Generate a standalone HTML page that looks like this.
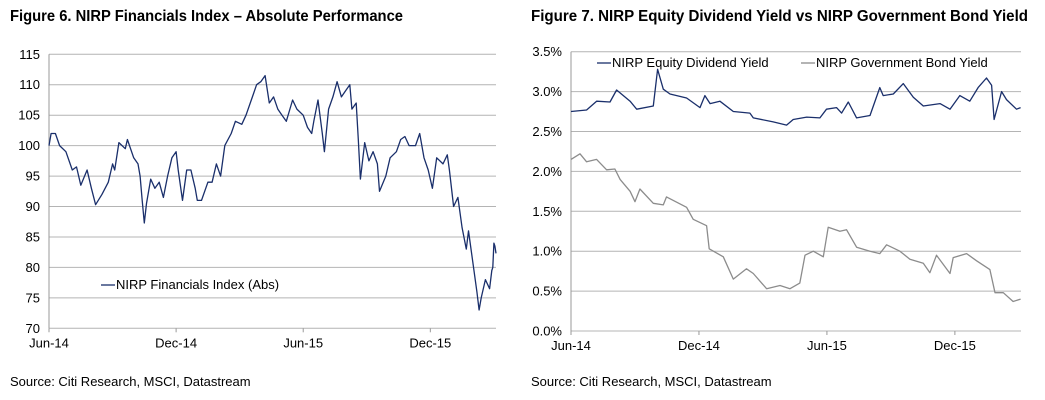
<!DOCTYPE html>
<html><head><meta charset="utf-8"><style>
body{margin:0;background:#fff}
svg{display:block;font-family:"Liberation Sans",Arial,sans-serif}
.t{font-family:"Liberation Sans Narrow","Liberation Sans",sans-serif;font-weight:bold;font-size:16px;fill:#000}
.tk{font-size:13px;fill:#000}
.src{font-family:"Liberation Sans Narrow","Liberation Sans",sans-serif;font-size:13px;fill:#000}
</style></head><body>
<svg id="s" width="1045" height="400">
<text class="t" x="10" y="21" textLength="393" lengthAdjust="spacingAndGlyphs">Figure 6. NIRP Financials Index – Absolute Performance</text>
<text class="t" x="531" y="21" textLength="497" lengthAdjust="spacingAndGlyphs">Figure 7. NIRP Equity Dividend Yield vs NIRP Government Bond Yield</text>
<text class="src" x="10" y="386">Source: Citi Research, MSCI, Datastream</text>
<text class="src" x="531" y="386">Source: Citi Research, MSCI, Datastream</text>
<g id="L"></g>
<g id="R"></g>
</svg>
<script>
const xTickLabels=["Jun-14","Dec-14","Jun-15","Dec-15"];
const xTickMonths=[0,6,12,18];
const leftTicks=[70,75,80,85,90,95,100,105,110,115];
const finMonths=[0,0.1,0.3,0.5,0.8,1.1,1.3,1.5,1.8,2.0,2.2,2.5,2.8,3.0,3.1,3.3,3.6,3.7,4.0,4.2,4.3,4.4,4.5,4.6,4.8,5.0,5.2,5.4,5.6,5.8,6.0,6.1,6.3,6.5,6.7,6.9,7.0,7.2,7.5,7.7,7.9,8.1,8.3,8.6,8.8,9.1,9.3,9.6,9.8,10.0,10.2,10.4,10.6,10.8,11.0,11.2,11.5,11.7,12.0,12.2,12.4,12.5,12.7,12.9,13.0,13.2,13.4,13.6,13.8,14.0,14.2,14.3,14.5,14.6,14.7,14.9,15.1,15.3,15.5,15.6,15.9,16.1,16.4,16.6,16.8,17.0,17.3,17.5,17.7,17.9,18.1,18.3,18.6,18.8,18.9,19.1,19.3,19.5,19.7,19.8,20.0,20.2,20.3,20.4,20.6,20.8,20.9,20.95,21.0,21.05,21.1];
const finValues=[100,102,102,100,99,96,96.5,93.5,96,93,90.3,92,94,97,96,100.5,99.5,101,98,97,95,91,87.3,90.5,94.5,93,94,91.5,95,98,99,96,91,96,96,93,91,91,94,94,97,95,100,102,104,103.5,105,108,110,110.5,111.5,107,108,106,105,104,107.5,106,105,103,102,104,107.5,102,99,106,108,110.5,108,109,110,106,107,101,94.5,100.5,97.5,99,97,92.5,95,98,99,101,101.5,100,100,102,98,96,93,98,97,98.5,96,90,91.5,86.5,83,86,81,76,73,75,78,76.5,79.5,80,84,83.5,82.3];
const rightTicks=[0,0.5,1.0,1.5,2.0,2.5,3.0,3.5];
const eqMonths=[0,0.73,1.2,1.83,2.14,2.77,3.08,3.86,4.06,4.33,4.64,5.42,6.05,6.28,6.52,6.98,7.61,8.39,8.55,9.48,10.11,10.42,11.05,11.67,11.98,12.45,12.69,13.0,13.39,14.02,14.48,14.64,15.11,15.58,16.05,16.52,17.3,17.77,18.23,18.7,19.09,19.48,19.72,19.84,20.19,20.42,20.89,21.08];
const eqValues=[2.75,2.77,2.88,2.87,3.02,2.88,2.78,2.82,3.28,3.03,2.97,2.92,2.80,2.95,2.85,2.88,2.75,2.73,2.67,2.62,2.58,2.65,2.68,2.67,2.78,2.80,2.73,2.87,2.67,2.70,3.05,2.95,2.97,3.10,2.93,2.82,2.85,2.78,2.95,2.88,3.05,3.17,3.08,2.65,3.00,2.90,2.78,2.80];
const bondMonths=[0,0.42,0.73,1.2,1.67,2.06,2.3,2.77,3.0,3.23,3.86,4.33,4.48,5.42,5.73,6.36,6.48,7.14,7.61,8.23,8.55,9.17,9.8,10.27,10.73,10.97,11.36,11.83,12.06,12.61,12.92,13.39,14.02,14.48,14.8,15.42,15.89,16.52,16.83,17.14,17.77,17.92,18.55,19.02,19.64,19.88,20.27,20.73,21.08];
const bondValues=[2.15,2.22,2.12,2.15,2.02,2.03,1.90,1.75,1.62,1.78,1.60,1.58,1.68,1.55,1.40,1.32,1.03,0.93,0.65,0.78,0.72,0.53,0.57,0.53,0.60,0.95,1.00,0.93,1.30,1.25,1.27,1.05,1.00,0.97,1.08,1.00,0.90,0.85,0.73,0.95,0.72,0.92,0.97,0.88,0.77,0.48,0.48,0.37,0.40];
const NS="http://www.w3.org/2000/svg";
function mk(p,tag,at){const e=document.createElementNS(NS,tag);for(const k in at)e.setAttribute(k,at[k]);p.appendChild(e);return e;}
function chart(g,x0,x1,y0,y1,vmin,vmax,mEnd,ticks,fmt,series){
  const xs=m=>x0+(x1-x0)*m/mEnd, ys=v=>y1-(y1-y0)*(v-vmin)/(vmax-vmin);
  ticks.forEach(t=>{
    const l=mk(g,'line',{x1:x0,x2:x1,y1:ys(t),y2:ys(t),stroke:'#b4b4b4','stroke-width':1});
    
    
    const tx=mk(g,'text',{x:x0-9,y:ys(t)+4.5,'text-anchor':'end',class:'tk'});tx.textContent=fmt(t);
    
    
  });
  const ax=mk(g,'line',{x1:x0,x2:x0,y1:y0,y2:y1,stroke:'#999'});
  
  
  xTickMonths.forEach((m,i)=>{
    mk(g,'line',{x1:xs(m),x2:xs(m),y1:y1,y2:y1+4,stroke:'#999'});
    const tx=mk(g,'text',{x:xs(m),y:y1+19,'text-anchor':'middle',class:'tk'});tx.textContent=xTickLabels[i];
    
    
  });
  series.forEach(s=>{
    const d=s.m.map((m,i)=>(i?'L':'M')+xs(m).toFixed(1)+','+ys(s.v[i]).toFixed(1)).join('');
    const p=mk(g,'path',{d:d,fill:'none',stroke:s.c,'stroke-width':1.3,'stroke-linejoin':'round'});
    
    
  });
}
function legend(g,x,y,c,label,name){
  mk(g,'line',{x1:x,x2:x+14,y1:y-4,y2:y-4,stroke:c,'stroke-width':1.3});
  const t=mk(g,'text',{x:x+15,y:y,class:'tk','font-size':'13.5'});t.textContent=label;
  
  
}
const L=document.getElementById('L'),R=document.getElementById('R');
chart(L,49,496,54.3,328.3,70,115,21.1,leftTicks,t=>t,[{m:finMonths,v:finValues,c:'#1a2f6b',n:'financials-index-line'}]);
legend(L,101,289,'#1a2f6b','NIRP Financials Index (Abs)','legend-financials-index');
chart(R,571,1021,51.7,331,0,3.5,21.1,rightTicks,t=>t.toFixed(1)+'%',[{m:bondMonths,v:bondValues,c:'#8c8c8c',n:'bond-yield-line'},{m:eqMonths,v:eqValues,c:'#1a2f6b',n:'dividend-yield-line'}]);
legend(R,597,67,'#1a2f6b','NIRP Equity Dividend Yield','legend-dividend-yield');
legend(R,801,67,'#8c8c8c','NIRP Government Bond Yield','legend-bond-yield');
</script>
</body></html>
